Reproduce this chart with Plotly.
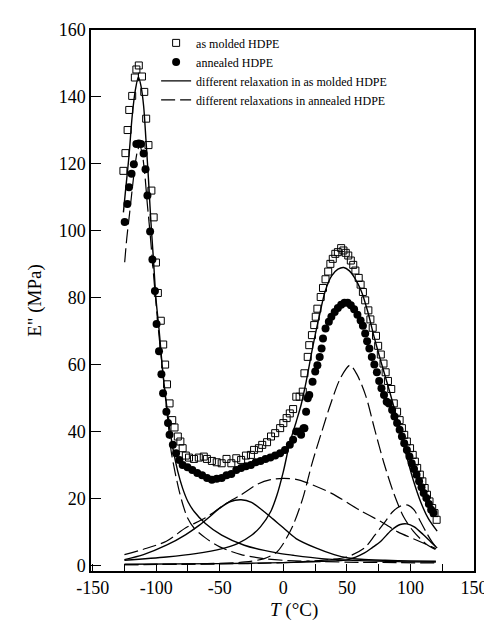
import plotly.graph_objects as go

# ---------------- data ----------------
T_molded = [-125.8,-124.2,-122.5,-121.2,-118.9,-116.8,-115.6,-113.7,-111.2,-109.4,-107.9,-106.1,-103.8,-102,-100.2,-98.7,-96.4,-94.5,-93,-91.5,-89.5,-87.4,-85.6,-83,-81,-79.2,-76.7,-74.2,-70.3,-66.5,-62.6,-60.1,-56.2,-52.4,-48.5,-44.7,-40.9,-37,-33.2,-29.4,-25.5,-23,-19.2,-16.6,-12.8,-9.7,-6.4,-2.5,0,2.6,5.1,7.7,10.2,12.8,15.3,16.6,19.2,20.4,22.5,24.3,25.5,26.8,29.4,31.2,33.2,35.3,37,38.9,40.9,42.9,45.5,47.3,49.1,51.1,53.1,55,56.7,59.3,60.8,62.6,64.4,66.9,68.5,70.3,72.9,74.6,76.7,78.8,80.5,82.3,84.9,86.9,89.5,91.5,93.3,95.1,97.2,99.7,101.8,103.5,105.3,107.4,109.4,111.2,113,115,117.1,118.9,120.6]
E_molded = [117.9,123.2,130.1,136.1,140.3,145.8,148.2,149.4,146.1,141.5,133.5,125.6,112,104,90.5,81.4,73.1,66,60,54.1,48.4,43.4,41.2,38.5,37,35,32.8,32.2,31.8,32.2,32.5,31.8,31.2,30.8,30.5,31.8,30.5,32,31.5,32.8,33,34.5,35,36,36.8,38.5,39.5,41,42.5,44,45.4,46.7,50.4,50.4,51.9,57.4,62.3,65.8,68.8,71.8,74.3,76.7,80.2,82.9,85.5,87.8,90.1,91.6,93.1,93.6,94.8,94.1,93.4,92.6,91.1,89.8,88.1,85.9,83.9,81.7,79.2,76.2,73.5,71,68.6,65.6,63,60.3,57.7,55.1,52.7,48.4,45.9,43.4,41,39,37,35,33,31,29.1,27.1,25.1,23.1,21.1,19.1,17.1,15.6,13.6]

T_annealed = [-124.8,-122.7,-121.4,-119.4,-117.6,-115.6,-113.7,-112,-109.9,-108.4,-106.9,-104.8,-103,-101,-99.7,-97.8,-95.9,-94.6,-92,-90.7,-89.5,-86.9,-84.4,-81.8,-79.2,-75.4,-71.6,-67.7,-63.9,-60,-56.2,-52.4,-48.5,-44.7,-40.9,-37,-33.2,-29.4,-25.5,-21.7,-17.9,-14,-10.2,-6.4,-2.5,1.3,5.1,7.7,10.2,12.8,14,15.9,16.6,17.9,19.2,20.4,23,25.1,26.8,28.6,30.1,31.2,33.2,35.8,37.8,40.4,42.9,45.5,48.1,50.6,53.1,55.7,58.3,60.8,62.6,64.4,65.9,67.7,69.6,71.6,73.6,75.4,77.2,79.2,81.3,83.1,85.6,87.4,89.5,91.5,93.3,95.1,97.2,99.2,101,102.8,104.8,106.8,108.7,110.4,112.5,114.5,116.3,118.1]
E_annealed = [102.6,108,113,117,119.9,125.9,126.1,125.9,123.1,118.4,110.5,99.8,91.4,82,72.1,64,57.1,51.4,45.9,42.5,39,36,33.5,31.5,30,29.3,28.5,27.6,26.9,26.1,25.6,25.9,26.1,26.9,27.3,28.5,29.1,29.6,30,30.8,31.2,31.8,32.2,32.8,33.5,34.5,36,37.5,40,40,39,41,41,45.9,49.9,50.9,54.9,57.9,59.8,62.3,64.8,67.8,70.8,72.8,74.3,75.7,76.9,77.9,78.5,78.5,77.7,76.5,74.9,73.2,71.6,69.3,67,64.8,62.3,60,57.7,55.1,52.9,50.9,48.9,48.4,46.4,44.5,42.5,40.5,38.5,36.5,34.5,32.5,30.5,28.8,27.1,25.1,23.3,21.6,20.1,18.3,16.6,15.6]

# relaxation components, as molded (solid)
T_gamma_m = [-125.8,-124,-121.4,-118.9,-116.3,-114,-112,-109.9,-108.1,-106.1,-104.3,-102.2,-100.2,-97.6,-94.6,-90.7,-86.9,-83,-79.2,-75,-70,-61.3,-48.5,-30.7,-5.1,7.7,30,60,90,120]
E_gamma_m = [105.5,112.5,122.4,134.3,142.3,146,143.3,137.3,127.4,115.5,103.5,91.6,79.7,69.8,57,44.5,35,28,23,19,16,12.5,9,6,3.7,3,2,1.4,1.1,1]
T_beta_m = [-125,-110,-92,-76.7,-66,-58,-51,-42,-33.2,-25,-15.3,-8,0,10,25.5,40,51,61,80,100,120]
E_beta_m = [1.7,3.2,6,9.2,12,14.5,16.8,19,19.6,18.8,16.1,13.8,11.2,8,5.2,3.2,2.2,1.8,1.5,1.3,1.2]
T_alpha_m = [-125,-92,-69,-48,-36,-25,-18,-10,-5,0,5,10.2,14,18,23,28,33,38,43,47.5,52,56,61.3,66.5,71.6,76.7,84.4,90,96,102.2,108,114,121]
E_alpha_m = [1.5,2.5,3.5,5,6.5,9,11.5,16,21,28,36.5,43,48,55,65,74,82,86.5,88.5,89,88,86,82,75.7,68,61,50.9,43,34,25.5,19,14,10.2]
T_alpha2_m = [-125,-50,0,30,51,63.9,70,76.7,85,92,97.2,103,110,116,121]
E_alpha2_m = [0.3,0.5,0.8,1.2,1.7,3.7,5.3,7.2,10.5,12.2,12.4,11.5,9.2,7,5.2]

# relaxation components, annealed (dashed)
T_gamma_a = [-124.8,-123.2,-121,-119,-117,-115,-113,-111,-109,-107,-105,-103,-101,-98.4,-96,-93,-90.5,-88.2,-85,-81.8,-78.5,-75.4,-70,-61.3,-50,-33.2,-15,0,30,60,90,120]
E_gamma_a = [90.6,97.6,105,112,118.5,123.4,125.5,123,117,108,100,91,82,71,62,51,42,34,27.5,22,17.5,14.2,11,8.2,5.5,3.2,2,1.5,1.1,0.9,0.8,0.7]
T_beta_a = [-125,-110,-92,-76.7,-61.3,-45,-33.2,-20,-10,0,10,20,38,60,77,90,105,120]
E_beta_a = [3.2,4.8,7.2,11.2,14.2,18.5,21.1,24.3,25.6,26,25.7,24.5,21.5,16.5,13,10,7.5,5]
T_alpha_a = [-125,-60,-30,-15,-5,0,7.7,15.3,23,30.7,37,45,52.4,58,65,71.6,79.2,86.9,94.6,102.2,112.5,120]
E_alpha_a = [0.2,0.5,1,2,4,6.5,12,20,31,40.5,48,56,59.8,57,50.5,41,30.5,21.5,14.5,10.2,6.3,4.7]
T_alpha2_a = [-125,-50,0,30,50,63.9,72,80,86,92,98,103,108,113,117,120]
E_alpha2_a = [0.2,0.4,0.8,1.5,2.5,5.2,9,13,16,17.7,18,16.5,13,9.5,7,5.5]

X_TICKS = [-150, -100, -50, 0, 50, 100, 150]
X_TICK_TEXT = ["-150", "-100", "-50", "0", "50", "100", "150"]
X_MINOR = [-125, -75, -25, 25, 75, 125]
Y_TICKS = [0, 20, 40, 60, 80, 100, 120, 140, 160]

LEGEND = ["as molded HDPE", "annealed HDPE",
          "different relaxation in as molded HDPE",
          "different relaxations in annealed HDPE"]

# ---------------- figure ----------------
FONT = "Liberation Serif, Times New Roman, serif"
fig = go.Figure()

fig.add_trace(go.Scatter(x=T_molded, y=E_molded, mode="markers", name=LEGEND[0],
                         marker=dict(symbol="square-open", size=7, color="black",
                                     line=dict(width=1, color="black"))))
fig.add_trace(go.Scatter(x=T_annealed, y=E_annealed, mode="markers", name=LEGEND[1],
                         marker=dict(symbol="circle", size=8, color="black")))

solid = [(T_gamma_m, E_gamma_m), (T_beta_m, E_beta_m), (T_alpha_m, E_alpha_m), (T_alpha2_m, E_alpha2_m)]
for i, (tx, ey) in enumerate(solid):
    fig.add_trace(go.Scatter(x=tx, y=ey, mode="lines", name=LEGEND[2], legendgroup="s",
                             showlegend=(i == 0),
                             line=dict(color="black", width=1.4, shape="spline", smoothing=0.8)))
dashed = [(T_gamma_a, E_gamma_a), (T_beta_a, E_beta_a), (T_alpha_a, E_alpha_a), (T_alpha2_a, E_alpha2_a)]
for i, (tx, ey) in enumerate(dashed):
    fig.add_trace(go.Scatter(x=tx, y=ey, mode="lines", name=LEGEND[3], legendgroup="d",
                             showlegend=(i == 0),
                             line=dict(color="black", width=1.2, shape="spline", smoothing=0.8,
                                       dash="14px,5px")))

fig.update_layout(
    width=492, height=625,
    margin=dict(l=83, r=16, t=20, b=62),
    paper_bgcolor="white", plot_bgcolor="white",
    font=dict(family=FONT, size=18, color="black"),
    showlegend=True,
    legend=dict(x=0.17, y=1.003, xanchor="left", yanchor="top",
                bgcolor="rgba(0,0,0,0)", font=dict(family=FONT, size=12),
                itemwidth=30, tracegroupgap=0),
    annotations=[dict(text="<i>T</i> (°C)", xref="paper", yref="paper",
                      x=0.53, y=-0.072, xanchor="center", yanchor="middle",
                      showarrow=False, font=dict(family=FONT, size=19))],
)
fig.update_xaxes(range=[-151.3, 150], tickmode="array", tickvals=X_TICKS, ticktext=X_TICK_TEXT,
                 ticks="inside", ticklen=7, tickwidth=1.2, tickcolor="black",
                 minor=dict(tickvals=X_MINOR, ticks="inside", ticklen=7, tickwidth=1.2, tickcolor="black"),
                 showline=True, linecolor="black", linewidth=1.5, mirror=True,
                 showgrid=False, zeroline=False)
fig.update_yaxes(range=[-1.7, 160], tickmode="array", tickvals=Y_TICKS,
                 ticks="inside", ticklen=10, tickwidth=1.2, tickcolor="black",
                 showline=True, linecolor="black", linewidth=1.5, mirror=True,
                 showgrid=False, zeroline=False,
                 title=dict(text="E\" (MPa)", font=dict(size=19), standoff=12))

fig.write_html("out.html")
